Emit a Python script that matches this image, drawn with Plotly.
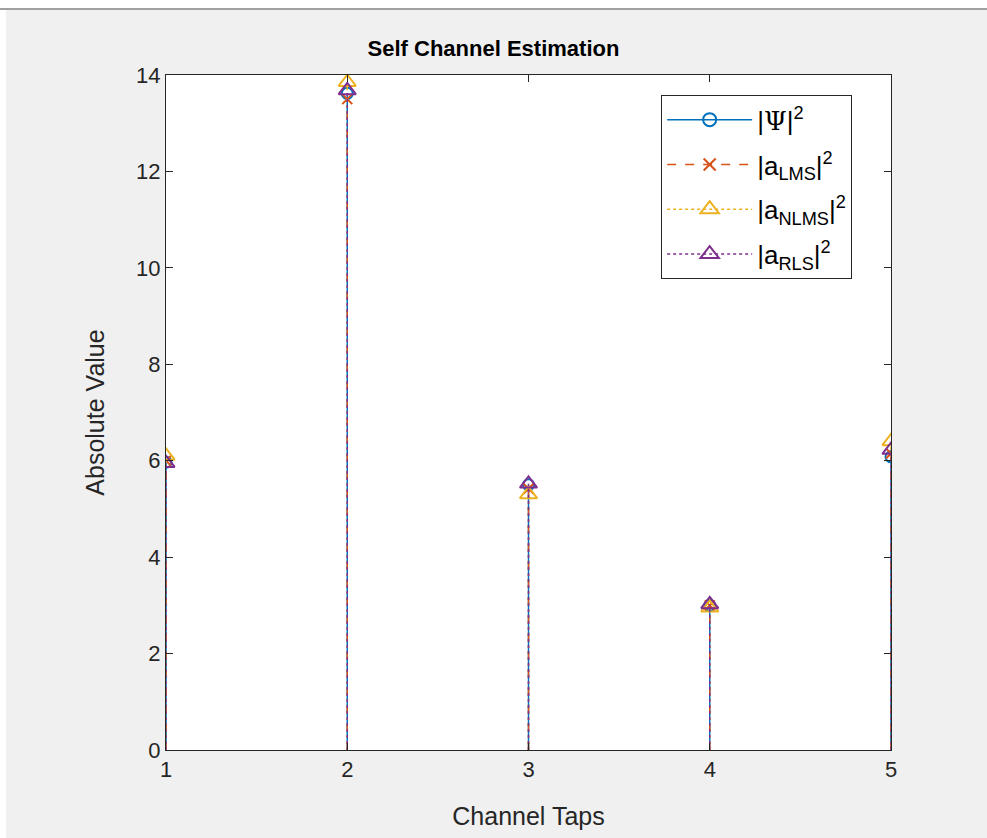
import plotly.graph_objects as go

# Channel tap indices and squared magnitudes of each estimate
taps = [1, 2, 3, 4, 5]
psi_sq = [5.97, 13.62, 5.50, 3.00, 6.08]
lms_sq = [6.00, 13.50, 5.42, 3.00, 6.15]
nlms_sq = [6.10, 13.85, 5.30, 2.95, 6.40]
rls_sq = [5.95, 13.68, 5.52, 3.02, 6.22]
y_ticks = [0, 2, 4, 6, 8, 10, 12, 14]

FONT = "Liberation Sans, Arial, sans-serif"
series = [
    ("|<span style='font-family:DejaVu Serif'>\u03a8</span>|<sup>2</sup>",
     psi_sq, "#0072BD", "solid", "circle-open", 11),
    ("|a<sub>LMS</sub>|<sup>2</sup>", lms_sq, "#D95319", "dash", "x-thin-open", 10),
    ("|a<sub>NLMS</sub>|<sup>2</sup>", nlms_sq, "#EDB120", "dot", "triangle-up-open", 15),
    ("|a<sub>RLS</sub>|<sup>2</sup>", rls_sq, "#7E2F8E", "dot", "triangle-up-open", 15),
]

fig = go.Figure()
for name, vals, color, dash, symbol, size in series:
    # stems: vertical segments from zero to each value
    sx, sy = [], []
    for t, v in zip(taps, vals):
        sx += [t, t, None]
        sy += [0, v, None]
    fig.add_trace(go.Scatter(
        x=sx, y=sy, mode="lines", line=dict(color=color, width=1.5, dash=dash),
        showlegend=False, hoverinfo="skip",
    ))
    # stem heads
    fig.add_trace(go.Scatter(
        x=taps, y=vals, mode="markers", showlegend=False,
        marker=dict(symbol=symbol, size=size, color=color,
                    line=dict(color=color, width=2)),
    ))

# legend entries showing line style plus marker, one group each for spacing
for k, (name, vals, color, dash, symbol, size) in enumerate(series):
    fig.add_trace(go.Scatter(
        x=[None], y=[None], mode="lines+markers", name=name, legendgroup=f"g{k}",
        line=dict(color=color, width=1.5, dash=dash),
        marker=dict(symbol=symbol, size=size + 2, color=color,
                    line=dict(color=color, width=2)),
    ))

axis_common = dict(
    showgrid=False, zeroline=False, showline=True, linecolor="#262626",
    linewidth=1, mirror="ticks", ticks="inside", ticklen=7, tickcolor="#262626",
    tickfont=dict(family=FONT, size=22, color="#262626"),
)

fig.update_layout(
    width=987, height=838,
    paper_bgcolor="#f0f0f0", plot_bgcolor="white",
    margin=dict(l=166, r=96, t=75, b=88),
    title=dict(text="<b>Self Channel Estimation</b>", x=0.5, xanchor="center",
               y=1 - 48 / 838, yanchor="middle",
               font=dict(family=FONT, size=22, color="black")),
    xaxis=dict(range=[1, 5], tickvals=taps, ticktext=[str(t) for t in taps],
               title=dict(text="Channel Taps", standoff=26,
                          font=dict(family=FONT, size=25, color="#262626")),
               **axis_common),
    yaxis=dict(range=[0, 14], tickvals=y_ticks,
               title=dict(text="Absolute Value", standoff=24,
                          font=dict(family=FONT, size=25, color="#262626")),
               **axis_common),
    legend=dict(x=0.683, y=0.97, xanchor="left", yanchor="top",
                bgcolor="white", bordercolor="#262626", borderwidth=1,
                font=dict(family=FONT, size=26, color="black"),
                tracegroupgap=8, itemwidth=85),
    showlegend=True,
    shapes=[
        dict(type="rect", xref="paper", yref="paper", x0=-0.3, x1=1.2,
             y0=1 + 67 / 675, y1=1 + 80 / 675, fillcolor="white", line=dict(width=0),
             layer="below"),
        dict(type="line", xref="paper", yref="paper", x0=-0.3, x1=1.2,
             y0=1 + 66 / 675, y1=1 + 66 / 675, line=dict(color="#a0a0a0", width=2)),
        dict(type="rect", xref="paper", yref="paper", x0=-166 / 725, x1=-160 / 725,
             y0=-0.2, y1=1.2, fillcolor="white", line=dict(width=0), layer="below"),
    ],
)

fig.write_html("out.html")
